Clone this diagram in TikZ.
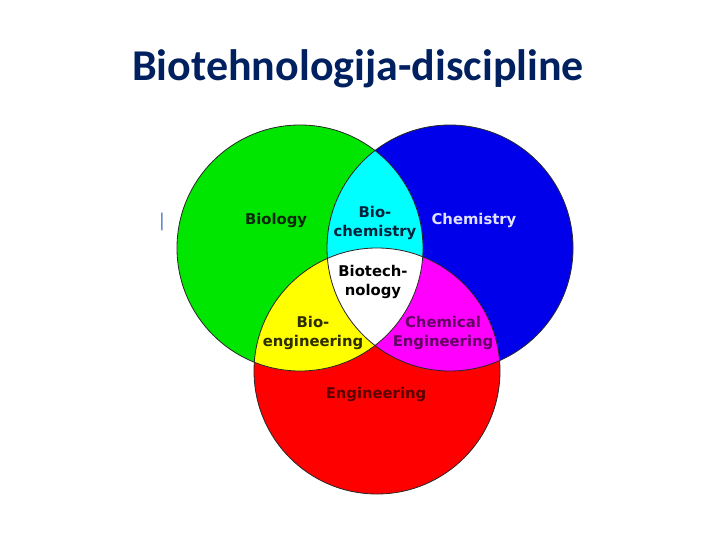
\documentclass[tikz,border=0pt]{standalone}
\usepackage{fontspec}
\setmainfont{DejaVu Sans}
\newfontfamily\titlefont{Carlito}
\definecolor{titlec}{RGB}{0,32,96}
\definecolor{cursc}{RGB}{68,114,196}
\definecolor{bioc}{RGB}{0,230,0}
\definecolor{chemc}{RGB}{0,0,235}
\definecolor{engc}{RGB}{255,0,0}
\definecolor{biochc}{RGB}{0,255,255}
\definecolor{bioengc}{RGB}{255,255,0}
\definecolor{chengc}{RGB}{255,0,255}
\definecolor{rimc}{RGB}{40,40,40}
\definecolor{biot}{RGB}{10,40,10}
\definecolor{biocht}{RGB}{0,35,60}
\definecolor{chemt}{RGB}{225,225,255}
\definecolor{bioengt}{RGB}{45,45,0}
\definecolor{chengt}{RGB}{100,0,100}
\definecolor{engt}{RGB}{90,0,0}
\newcommand{\Rad}{123}

\begin{document}
\begin{tikzpicture}[
    x=1pt, y=-1pt,
    rim/.style={draw=rimc, line width=0.8pt},
    lbl/.style={font=\bfseries\fontsize{14.8}{19}\selectfont, align=center, inner sep=0pt},
    ttl/.style={font=\titlefont\bfseries\fontsize{44}{48}\selectfont, text=titlec},
  ]
  \useasboundingbox (0,0) rectangle (720,540);

  % --- title
  \node[ttl, anchor=base] (title) at (358,81) {Biotehnologija-discipline};
  \node[font=\titlefont\fontsize{20}{22}\selectfont, text=cursc] (cursor) at (162,222) {|};

  % --- circle centres
  \coordinate (gc) at (300,248);
  \coordinate (bc) at (450,248);
  \coordinate (rc) at (377,371);

  % --- the three discs
  \fill[bioc]  (gc) circle[radius=\Rad];
  \fill[chemc] (bc) circle[radius=\Rad];
  \fill[engc]  (rc) circle[radius=\Rad];

  % --- pairwise overlaps, then the centre
  \begin{scope}
    \clip (gc) circle[radius=\Rad];
    \fill[biochc]  (bc) circle[radius=\Rad];
    \fill[bioengc] (rc) circle[radius=\Rad];
  \end{scope}
  \begin{scope}
    \clip (bc) circle[radius=\Rad];
    \fill[chengc] (rc) circle[radius=\Rad];
  \end{scope}
  \begin{scope}
    \clip (gc) circle[radius=\Rad];
    \clip (bc) circle[radius=\Rad];
    \fill[white] (rc) circle[radius=\Rad];
  \end{scope}

  % --- rims on top
  \draw[rim] (gc) circle[radius=\Rad];
  \draw[rim] (bc) circle[radius=\Rad];
  \draw[rim] (rc) circle[radius=\Rad];

  % --- labels
  \node[lbl, text=biot]    (biology)   at (276,220) {Biology};
  \node[lbl, text=biocht]  (biochem)   at (375,223) {Bio-\\chemistry};
  \node[lbl, text=chemt]   (chemistry) at (474,220) {Chemistry};
  \node[lbl, text=black]   (biotech)   at (373,282) {Biotech-\\nology};
  \node[lbl, text=bioengt] (bioeng)    at (313,333) {Bio-\\engineering};
  \node[lbl, text=chengt]  (chemeng)   at (443,333) {Chemical\\Engineering};
  \node[lbl, text=engt]    (eng)       at (376,394) {Engineering};

\end{tikzpicture}
\end{document}
